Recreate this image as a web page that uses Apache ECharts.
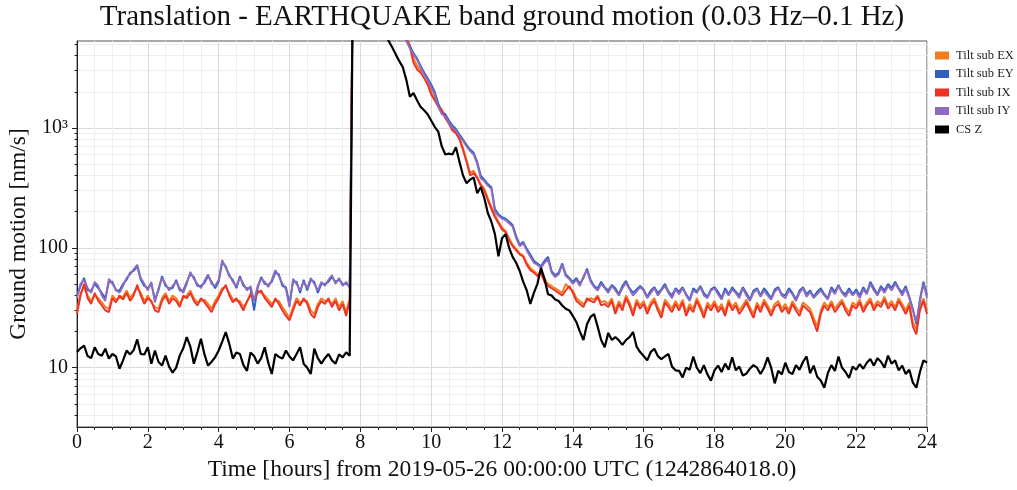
<!DOCTYPE html>
<html><head><meta charset="utf-8">
<script src="https://cdn.jsdelivr.net/npm/echarts@6/dist/echarts.min.js"></script>
<style>html,body{margin:0;padding:0;background:#ffffff}#c{width:1017px;height:490px}</style>
</head><body><div id="c"></div>
<script>
const chartTitle = 'Translation - EARTHQUAKE band ground motion (0.03 Hz\u20130.1 Hz)';
const xName = 'Time [hours] from 2019-05-26 00:00:00 UTC (1242864018.0)';
const yName = 'Ground motion [nm/s]';
const seriesNames = ['Tilt sub EX', 'Tilt sub EY', 'Tilt sub IX', 'Tilt sub IY', 'CS Z'];
const seriesColors = ['#f47b20', '#2f62c0', '#ee3124', '#8e6bc0', '#000000'];
const startHour = 0;
const stepHours = 0.1;
const yMajorTicks = [10, 100, 1000];
const yMinorTicks = [4, 5, 6, 7, 8, 9, 20, 30, 40, 50, 60, 70, 80, 90, 200, 300, 400, 500, 600, 700, 800, 900, 2000, 3000, 4000, 5000];

const tiltSubEX = [
30,42,47,40,36,40,38,35,32,31,
40,37,38,39,44,38,42,46,42,36,
40,35,32,31,38,42,36,40,38,34,
38,40,44,38,35,36,37,34,31,36,
40,46,47,42,37,36,36,32,35,42,
36,44,42,40,37,34,36,36,32,29,
26,32,38,35,36,36,30,28,34,38,
36,36,34,38,32,36,29,38,41000,39000,
36000,33000,30000,27000,23000,20000,17000,14000,11500,9200,
7400,6400,5900,5600,4900,3800,3300,3000,2900,2500,
2000,1750,1550,1420,1250,1100,980,920,820,680,
540,420,440,390,340,310,260,220,190,165,
148,138,120,106,98,90,86,75,68,64,
60,63,55,50,48,46,44,42,50,46,
44,38,36,34,36,38,37,40,35,36,
34,38,30,36,32,40,35,29,37,33,
36,30,35,38,32,28,37,34,31,36,
32,37,29,34,31,38,33,28,35,32,
36,31,34,29,37,32,35,30,33,37,
32,28,35,31,37,33,29,34,36,31,
34,30,36,32,29,35,33,31,26,22,
30,35,32,36,31,34,37,32,29,35,
33,37,31,35,38,32,36,34,39,33,
36,32,38,34,30,35,24,21,32,38,
30];

const tiltSubEY = [
40,48,56,44,44,50,46,42,38,52,
52,44,44,50,54,62,64,70,54,48,
46,50,37,44,58,48,46,46,54,44,
44,52,60,57,48,48,51,58,52,46,
52,76,70,58,54,46,58,48,46,46,
30,46,57,50,49,52,62,60,48,47,
34,52,52,42,54,44,54,52,42,50,
50,52,57,52,54,50,50,48,41000,39000,
36000,33000,30000,27000,23000,20000,17000,13500,11000,9000,
7300,6400,6000,5500,4800,4200,3800,3300,2900,2600,
2300,2000,1600,1350,1300,1150,1050,980,880,800,
720,660,620,520,400,370,340,320,210,190,
180,175,165,155,125,106,112,98,88,78,
74,70,78,84,64,59,62,74,60,56,
52,56,50,56,67,54,48,46,52,47,
44,49,46,41,48,53,46,42,45,48,
45,39,44,47,42,45,50,43,40,46,
43,47,41,37,46,43,48,42,39,45,
47,43,38,46,41,47,43,40,47,42,
37,44,46,40,46,42,38,45,47,41,
40,46,42,37,44,47,41,44,39,43,
46,41,38,47,43,49,43,41,46,41,
45,40,47,42,52,46,41,48,44,50,
46,52,46,42,48,39,31,23,37,52,
40];

const tiltSubIX = [
28,40,50,38,34,42,36,33,30,29,
38,35,40,37,42,36,40,49,40,34,
38,36,30,29,36,40,34,38,36,32,
40,38,42,36,33,38,35,32,29,34,
38,44,49,40,35,38,34,30,36,40,
38,42,44,38,35,32,38,34,30,27,
24.8,30,36,33,38,34,28,26,32,36,
34,38,32,36,30,34,27,36,42000,40000,
37000,34000,31000,28000,24000,21000,18000,15000,12000,9500,
7500,6500,6000,5500,4700,3500,3070,2900,2600,2300,
1900,1700,1500,1400,1200,1080,950,900,800,650,
520,400,420,380,330,300,250,210,180,160,
142,135,115,103,95,88,84,72,65,62,
58,61,52,48,46,44,42,40,44,48,
42,36,34,32,38,36,35,39,33,34,
32,36,28,34,30,38,33,27,35,31,
34,28,33,36,30,26,35,32,29,34,
30,35,27,32,29,36,31,26,33,30,
34,29,32,27,35,30,33,28,31,35,
30,26,33,29,35,31,27,32,34,29,
32,28,34,30,27,33,31,29,24,20,
28,33,30,34,29,32,35,30,27,33,
31,35,29,33,36,30,34,32,37,31,
34,30,36,32,28,33,22,19,30,36,
28];

const tiltSubIY = [
38,50,54,46,42,52,48,40,36,55,
50,45,42,48,56,60,66,72,56,50,
44,52,35,46,56,50,44,48,52,46,
42,50,63,55,50,46,53,60,50,48,
54,79,68,60,52,48,56,50,44,48,
36,48,55,52,47,54,65,58,50,45,
32,55,50,44,52,46,56,50,44,52,
48,54,59,50,56,48,52,46,40000,38000,
35000,32000,29000,26000,22000,19000,16000,13000,10500,8500,
7000,6200,5800,5300,4600,4100,3700,3200,2800,2500,
2200,1900,1500,1300,1250,1100,1000,950,850,780,
700,640,600,500,380,360,330,310,200,185,
175,170,160,150,120,103,109,95,84,75,
72,68,75,80,62,57,60,72,58,55,
50,54,48,58,65,52,47,44,50,46,
42,48,44,40,46,51,45,40,43,47,
44,38,42,46,40,44,48,42,38,45,
41,46,40,36,44,42,47,40,38,44,
46,41,37,44,40,45,42,38,46,40,
36,42,45,39,44,40,37,43,46,40,
38,44,41,36,42,46,39,43,38,41,
44,40,37,45,41,48,42,39,44,40,
43,38,45,41,50,44,40,46,42,48,
44,50,45,40,46,38,30,24,36,50,
38];

const csZ = [
13.5,14.5,15.3,12.5,12.0,14.8,13.0,12.6,14.4,11.9,
13.0,12.4,9.8,11.5,13.9,12.9,14.0,17.2,13.0,12.9,
14.8,10.8,13.9,11.2,10.4,12.6,10.2,9.1,10.0,12.6,
14.5,18.0,15.0,10.8,13.5,17.4,12.9,10.4,11.2,12.2,
13.9,16.5,19.8,15.8,11.9,13.4,13.0,10.5,9.4,13.4,
12.5,10.8,12.0,14.8,11.0,8.85,13.0,12.3,11.9,13.9,
12.4,11.5,13.0,14.8,10.8,10.0,8.85,14.4,12.0,10.8,
12.0,13.0,11.5,10.8,12.9,12.2,13.4,12.6,42000,38000,
33000,28000,23000,18000,14000,11000,8500,6800,5290,4700,
4100,3600,3200,2500,1820,1950,1700,1500,1400,1300,
1150,1020,930,700,600,610,600,690,520,400,
345,370,385,285,320,260,195,165,130,85,
120,130,100,84,75,64,52,44,34,42,
50,68,55,41,40,37,36,33,31,30,
27,24,20,17,23,26.5,28,22,17,14.8,
19.5,17,18,16.9,15.5,17,18,19.8,15,13.5,
12.5,11.5,13.5,14.4,12.5,11.8,12.4,13,10.2,9.5,
9.4,8.3,10.0,9.6,12.4,10.0,9.0,10.5,8.8,7.8,
9.5,10.4,9.2,10.8,9.6,12.2,9.5,10.2,8.6,8.9,
9.8,10.5,10.0,8.85,10.0,12.2,10.0,7.4,9.4,8.8,
11.0,9.2,8.85,10.5,9.6,11.2,12.4,9.0,10.4,8.4,
7.8,6.8,9.0,10.5,9.4,12.4,10.0,9.2,8.2,10.2,
9.6,10.7,9.8,11.0,11.8,10.4,12.0,11.2,10.0,12.6,
10.8,11.5,9.5,10.4,8.85,9.6,7.5,6.8,9.2,11.5,
11.0];

const seriesValues = [tiltSubEX, tiltSubEY, tiltSubIX, tiltSubIY, csZ];
const FONT = "'Liberation Serif', 'DejaVu Serif', serif";

function toPairs(vals) {
  return vals.map((v, i) => [+(startHour + i * stepHours).toFixed(2), v]);
}

const chart = echarts.init(document.getElementById('c'), null, {renderer: 'canvas'});
const option = {
  animation: false,
  backgroundColor: '#ffffff',
  textStyle: {fontFamily: FONT},
  graphic: [{
    type: 'text', x: 502, y: 3, z: 10,
    style: {text: chartTitle, fontFamily: FONT, fontSize: 29, fill: '#111', align: 'center', verticalAlign: 'top'}
  }],
  legend: {
    data: seriesNames, orient: 'vertical', left: 930, top: 44, icon: 'rect',
    itemWidth: 14, itemHeight: 8, itemGap: 5.5,
    textStyle: {fontFamily: FONT, fontSize: 12.5, color: '#222', lineHeight: 13, padding: [0, 0, 0, 2]}
  },
  grid: {left: 77, right: 90, top: 41, bottom: 63, outerBoundsMode: 'none', containLabel: false,
    show: true, borderColor: '#555', borderWidth: 1, backgroundColor: 'transparent'},
  xAxis: {
    type: 'value', min: 0, max: 24, interval: 2,
    name: xName, nameLocation: 'middle', nameGap: 31,
    nameTextStyle: {fontFamily: FONT, fontSize: 23.5, color: '#111'},
    axisLine: {show: true, lineStyle: {color: '#222', width: 1}},
    axisTick: {show: true, length: 5, lineStyle: {color: '#222'}},
    minorTick: {show: true, splitNumber: 4, length: 3, lineStyle: {color: '#222'}},
    splitLine: {show: true, lineStyle: {color: '#dadada', width: 1}},
    minorSplitLine: {show: true, lineStyle: {color: '#efefef', width: 1}},
    axisLabel: {fontFamily: FONT, fontSize: 20, color: '#111', margin: 6}
  },
  yAxis: [{
    type: 'log', logBase: 10, min: 3.2, max: 5300, position: 'left',
    name: yName, nameLocation: 'middle', nameGap: 46, nameRotate: 90, nameMoveOverlap: false,
    nameTextStyle: {fontFamily: FONT, fontSize: 23.5, color: '#111'},
    axisLine: {show: true, lineStyle: {color: '#222', width: 1}},
    axisTick: {show: true, length: 5, customValues: yMajorTicks, lineStyle: {color: '#222'}},
    axisLabel: {fontFamily: FONT, fontSize: 20, color: '#111', margin: 9, customValues: yMajorTicks,
      formatter: v => (Math.abs(v - 1000) < 1e-6 ? '10\u00B3' : String(Math.round(v)))},
    splitLine: {show: true, lineStyle: {color: '#dadada', width: 1}}
  }, {
    type: 'log', logBase: 10, min: 3.2, max: 5300, position: 'left', offset: 0,
    axisLine: {show: false},
    axisTick: {show: true, length: 2.5, customValues: yMinorTicks, lineStyle: {color: '#222'}},
    axisLabel: {show: false},
    splitLine: {show: true, lineStyle: {color: '#efefef', width: 1}}
  }],
  series: seriesNames.map((n, k) => ({
    name: n, type: 'line', yAxisIndex: 0, data: toPairs(seriesValues[k]),
    showSymbol: false, symbol: 'none', clip: true,
    itemStyle: {color: seriesColors[k]},
    lineStyle: {color: seriesColors[k], width: k === 4 ? 2.2 : 1.9},
    z: 2 + k
  }))
};
chart.setOption(option);
</script>
</body></html>
